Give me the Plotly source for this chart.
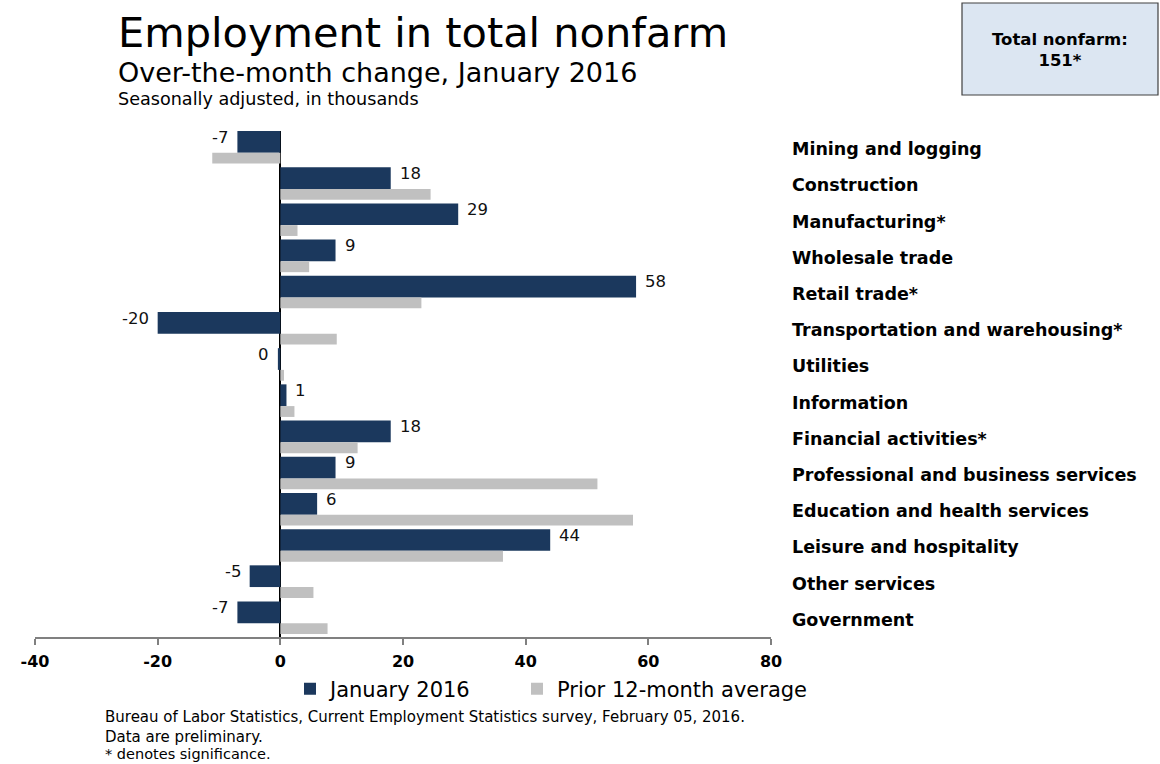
import plotly.graph_objects as go

categories = [
    "Mining and logging", "Construction", "Manufacturing*", "Wholesale trade",
    "Retail trade*", "Transportation and warehousing*", "Utilities", "Information",
    "Financial activities*", "Professional and business services",
    "Education and health services", "Leisure and hospitality", "Other services",
    "Government",
]
jan_2016 = [-7, 18, 29, 9, 58, -20, -0.4, 1, 18, 9, 6, 44, -5, -7]
jan_labels = ["-7", "18", "29", "9", "58", "-20", "0", "1", "18", "9", "6", "44", "-5", "-7"]
prior_avg = [-11.1, 24.5, 2.8, 4.7, 23.0, 9.2, 0.6, 2.3, 12.6, 51.7, 57.5, 36.3, 5.4, 7.7]
x_ticks = [-40, -20, 0, 20, 40, 60, 80]

NAVY = "#1b385d"
GRAY = "#c0c0c0"
FONT = "DejaVu Sans"

L, R, T, B = 35, 389, 131, 127
W, H = 1160, 764
PW, PH = W - L - R, H - T - B


def px(x):
    return (x - L) / PW


def py(y):
    return (H - B - y) / PH


fig = go.Figure()
fig.add_trace(go.Bar(
    y=categories, x=jan_2016, orientation="h", name="January 2016",
    marker=dict(color=NAVY, line=dict(width=0)), offset=-0.5, width=0.6,
    legend="legend",
))
fig.add_trace(go.Bar(
    y=categories, x=prior_avg, orientation="h", name="Prior 12-month average",
    marker=dict(color=GRAY, line=dict(width=0)), offset=0.1, width=0.3,
    legend="legend2",
))

annotations = []
for cat, v, lab in zip(categories, jan_2016, jan_labels):
    annotations.append(dict(
        x=v, y=cat, xref="x", yref="y", text=lab, showarrow=False,
        xanchor="left" if v >= 0 else "right", yanchor="middle",
        xshift=7 if v >= 0 else -7, yshift=12,
        font=dict(family=FONT, size=16.5, color="#111111"),
    ))

annotations += [
    dict(x=px(116), y=py(32), xref="paper", yref="paper", text="Employment in total nonfarm",
         showarrow=False, xanchor="left", yanchor="middle",
         font=dict(family=FONT, size=41.5, color="#000000")),
    dict(x=px(116), y=py(72), xref="paper", yref="paper", text="Over-the-month change, January 2016",
         showarrow=False, xanchor="left", yanchor="middle",
         font=dict(family=FONT, size=27, color="#000000")),
    dict(x=px(116), y=py(99), xref="paper", yref="paper", text="Seasonally adjusted, in thousands",
         showarrow=False, xanchor="left", yanchor="middle",
         font=dict(family=FONT, size=17.6, color="#000000")),
    dict(x=px(1060), y=py(50), xref="paper", yref="paper", text="<b>Total nonfarm:<br>151*</b>",
         showarrow=False, xanchor="center", yanchor="middle",
         font=dict(family=FONT, size=16.5, color="#000000")),
    dict(x=px(103), y=py(717), xref="paper", yref="paper",
         text="Bureau of Labor Statistics, Current Employment Statistics survey, February 05, 2016.",
         showarrow=False, xanchor="left", yanchor="middle",
         font=dict(family=FONT, size=15, color="#000000")),
    dict(x=px(103), y=py(737), xref="paper", yref="paper", text="Data are preliminary.",
         showarrow=False, xanchor="left", yanchor="middle",
         font=dict(family=FONT, size=15, color="#000000")),
    dict(x=px(103), y=py(754), xref="paper", yref="paper", text="* denotes significance.",
         showarrow=False, xanchor="left", yanchor="middle",
         font=dict(family=FONT, size=14.5, color="#000000")),
]

shapes = [dict(type="rect", xref="paper", yref="paper",
               x0=px(962), x1=px(1158), y0=py(95), y1=py(3),
               fillcolor="#dce6f2", line=dict(color="#404040", width=1.2), layer="below")]

legend_font = dict(family=FONT, size=21, color="#000000")

fig.update_layout(
    width=W, height=H,
    margin=dict(l=L, r=R, t=T, b=B, pad=0),
    paper_bgcolor="white", plot_bgcolor="white",
    barmode="overlay",
    showlegend=True,
    legend=dict(orientation="h", x=px(290), y=py(689), xanchor="left", yanchor="middle",
                font=legend_font, bgcolor="rgba(0,0,0,0)"),
    legend2=dict(orientation="h", x=px(517), y=py(689), xanchor="left", yanchor="middle",
                 font=legend_font, bgcolor="rgba(0,0,0,0)"),
    annotations=annotations,
    shapes=shapes,
    xaxis=dict(range=[-40, 80], tickvals=x_ticks, ticktext=[str(t) for t in x_ticks],
               showgrid=False, zeroline=True, zerolinecolor="#000000", zerolinewidth=1.5,
               showline=True, linecolor="#808080", linewidth=2,
               ticks="outside", ticklen=6, tickcolor="#808080", tickwidth=1.5,
               ticklabelstandoff=3,
               tickfont=dict(family=FONT, size=16, color="#000000", weight="bold"),
               fixedrange=True),
    yaxis=dict(categoryorder="array", categoryarray=categories, range=[13.48, -0.5],
               side="right", showgrid=False, zeroline=False, showline=False, ticks="",
               ticklabelstandoff=20,
               tickfont=dict(family=FONT, size=17.5, color="#000000", weight="bold"),
               fixedrange=True),
)

fig.write_html("out.html", config={"displayModeBar": False},
               post_script="document.body.style.margin='0';document.body.style.overflow='hidden';")
